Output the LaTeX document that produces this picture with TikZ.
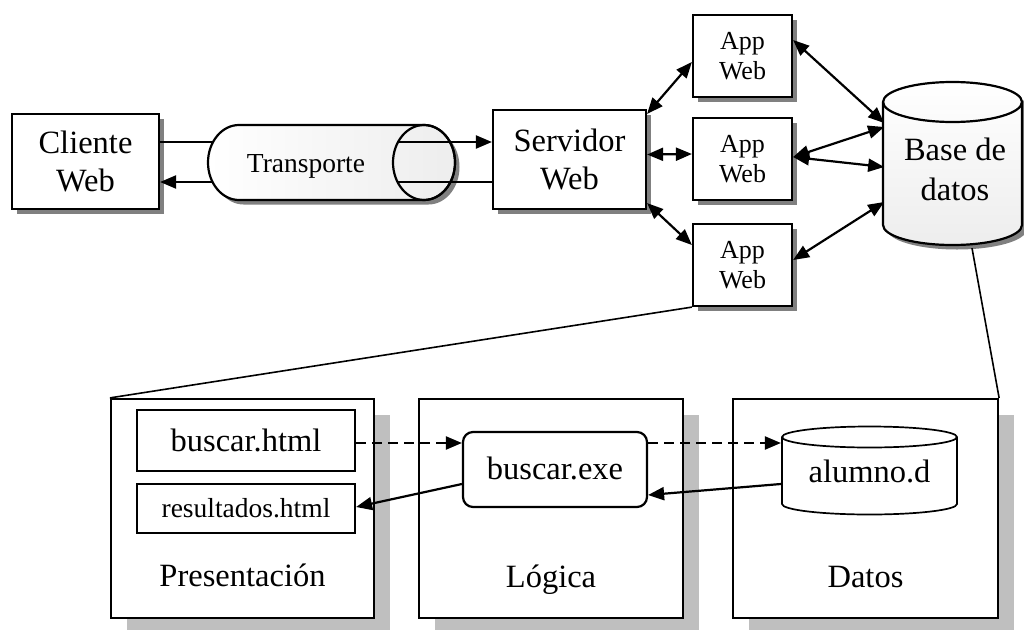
\documentclass[tikz,border=0pt]{standalone}
\usepackage{fontspec}
\setmainfont{Liberation Serif}
\usetikzlibrary{arrows.meta,shadows}

\begin{document}
\begin{tikzpicture}[x=1pt,y=-1pt,
  line width=2.2pt,
  >={Triangle[length=16pt,width=13pt]},
  big/.style={font=\fontsize{32.5}{38}\selectfont},
  bigdb/.style={font=\fontsize{32.5}{40}\selectfont},
  mid/.style={font=\fontsize{27.5}{32}\selectfont},
  small/.style={font=\fontsize{26}{30}\selectfont},
  box/.style={draw, fill=white, inner sep=0pt, align=center,
    general shadow={fill=black!50, shadow xshift=4.5pt, shadow yshift=-4.5pt}},
  panel/.style={draw, fill=white, inner sep=0pt,
    general shadow={fill=black!25, shadow xshift=16pt, shadow yshift=-16pt}},
  plainbox/.style={draw, fill=white, inner sep=0pt, align=center},
  label/.style={inner sep=0pt, align=center},
  dasharr/.style={->, dash pattern=on 10pt off 6pt},
  zoomline/.style={line width=1.6pt}]

\useasboundingbox (0,0) rectangle (1024,629);

% ---------- upper tier ----------
\node[box, big, minimum width=147pt, minimum height=95pt] (cli) at (85.5,161.5) {Cliente\\Web};
\node[box, big, minimum width=153pt, minimum height=99pt] (srv) at (569.5,159.5) {Servidor\\Web};

\node[box, small, minimum width=99pt, minimum height=82pt] (apptop) at (742.5,56) {App\\Web};
\node[box, small, minimum width=99pt, minimum height=82pt] (appmid) at (742.5,159) {App\\Web};
\node[box, small, minimum width=99pt, minimum height=82pt] (appbot) at (742.5,265) {App\\Web};

% transport pipe (horizontal cylinder)
\fill[black!50, shift={(4.5,4.5)}] (424,125) -- (239,125)
  arc[start angle=90, end angle=270, x radius=31pt, y radius=37.5pt] -- (424,200)
  arc[start angle=-90, end angle=90, x radius=31pt, y radius=37.5pt] -- cycle;
\path[draw, left color=white, right color=black!7] (424,125) -- (239,125)
  arc[start angle=90, end angle=270, x radius=31pt, y radius=37.5pt] -- (424,200)
  arc[start angle=-90, end angle=90, x radius=31pt, y radius=37.5pt] -- cycle;
\draw (424,162.5) ellipse[x radius=31pt, y radius=37.5pt];
\node[mid, label] (trans) at (306,166) {Transporte};

\coordinate (t1) at (213,142);
\coordinate (t2) at (398,142);
\coordinate (t3) at (213,182);
\coordinate (t4) at (398,182);

% database (vertical cylinder)
\fill[black!50, shift={(4.5,4.5)}] (883,102) -- (883,225)
  arc[start angle=180, end angle=360, x radius=69.5pt, y radius=20pt] -- (1022,102)
  arc[start angle=0, end angle=180, x radius=69.5pt, y radius=20pt] -- cycle;
\path[draw, top color=white, bottom color=black!7] (883,102) -- (883,225)
  arc[start angle=180, end angle=360, x radius=69.5pt, y radius=20pt] -- (1022,102)
  arc[start angle=0, end angle=180, x radius=69.5pt, y radius=20pt] -- cycle;
\draw (883,102) arc[start angle=180, end angle=360, x radius=69.5pt, y radius=20pt];
\node[bigdb, label, minimum width=139.5pt, minimum height=156pt] (db) at (955,169) {Base de\\datos};

% transport connectors
\draw (cli.east |- t1) -- (t1);
\draw[->] (t2) -- (srv.west |- t2);
\draw (srv.west |- t4) -- (t4);
\draw[->] (t3) -- (cli.east |- t3);

% server <-> applications
\draw[<->] ([yshift=-5pt]srv.north east) -- ([yshift=-6pt]apptop.west);
\draw[<->] ([yshift=5pt]srv.east) -- ([yshift=5pt]appmid.west);
\draw[<->] ([yshift=7pt]srv.south east) -- ([yshift=20pt]appbot.west);

% applications <-> database
\draw[<->] ([yshift=16pt]apptop.east) -- ([yshift=46pt]db.west);
\draw[<->] ([yshift=2pt]appmid.east) -- ([yshift=42pt]db.west);
\draw[<->] ([yshift=2pt]appmid.east) -- ([yshift=2pt]db.west);
\draw[<->] ([yshift=5pt]appbot.east) -- ([yshift=-33pt]db.west);

% ---------- lower tier ----------
\node[panel, minimum width=263pt, minimum height=219pt] (pres) at (242.5,508.5) {};
\node[panel, minimum width=264pt, minimum height=219pt] (logi) at (551,508.5) {};
\node[panel, minimum width=265pt, minimum height=219pt] (datos) at (865.5,508.5) {};

\node[big, label, anchor=base] (prestit) at (242.5,586) {Presentación};
\node[big, label, anchor=base] (logitit) at (551,587) {Lógica};
\node[big, label, anchor=base] (datostit) at (865.5,587) {Datos};

\node[plainbox, big, minimum width=218pt, minimum height=61pt] (bhtml) at (246,440.5) {buscar.html};
\node[plainbox, mid, minimum width=218pt, minimum height=49pt] (rhtml) at (246,508.5) {resultados.html};
\node[plainbox, big, rounded corners=10pt, minimum width=184pt, minimum height=75pt] (bexe) at (555,469.5) {\raisebox{3pt}{buscar.exe}};

\draw[line width=1.7pt, fill=white] (782,437) -- (782,504)
  arc[start angle=180, end angle=360, x radius=87.5pt, y radius=10.5pt] -- (957,437)
  arc[start angle=0, end angle=180, x radius=87.5pt, y radius=10.5pt] -- cycle;
\draw[line width=1.7pt] (782,437) arc[start angle=180, end angle=360, x radius=87.5pt, y radius=10.5pt];
\node[big, label, minimum width=175pt, minimum height=88pt] (alum) at (869.5,471) {alumno.d};

% zoom lines from the upper tier
\draw[zoomline] (appbot.south west) -- (pres.north west);
\draw[zoomline] ([xshift=17pt]db.south) -- (datos.north east);

% request / response flow
\draw[dasharr] ([yshift=-2.5pt]bhtml.east) -- ([yshift=26.5pt]bexe.west);
\draw[dasharr] ([yshift=26.5pt]bexe.east) -- ([yshift=28pt]alum.west);
\draw[->] ([yshift=-13pt]alum.west) -- ([yshift=-25.5pt]bexe.east);
\draw[->] ([yshift=-14.5pt]bexe.west) -- ([yshift=1.5pt]rhtml.east);

\end{tikzpicture}
\end{document}
